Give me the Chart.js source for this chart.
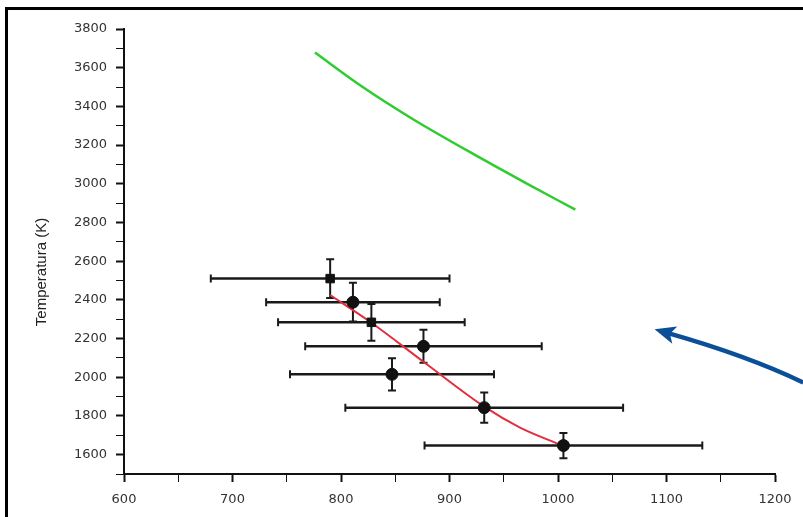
<!DOCTYPE html>
<html>
<head>
<meta charset="utf-8">
<script src="https://cdn.jsdelivr.net/npm/chart.js@4/dist/chart.umd.min.js"></script>
<style>
html, body { margin: 0; padding: 0; background: #fff; overflow: hidden; }
#wrap { position: relative; width: 803px; height: 517px; overflow: hidden; }
#marco { position: absolute; left: 5px; top: 7px; width: 900px; height: 600px; border: 3px solid #000; box-sizing: border-box; }
canvas { position: absolute; left: 0; top: 0; }
</style>
</head>
<body>
<div id="wrap">
  <div id="marco"></div>
  <canvas id="grafico" width="803" height="517"></canvas>
</div>
<script>
// Puntos experimentales con barras de error
const puntosX = [790, 811, 828, 876, 847, 932, 1005];
const puntosY = [2510, 2388, 2284, 2160, 2015, 1843, 1647];
const errorX = [110, 80, 86, 109, 94, 128, 128];
const errorY = [100, 100, 95, 85, 83, 78, 65];
const marcadores = ['rect', 'circle', 'rect', 'circle', 'circle', 'circle', 'circle'];

// Ajuste (linea roja)
const ajusteX = [790, 829, 876, 932, 965, 1005];
const ajusteY = [2425, 2278, 2080, 1848, 1740, 1645];

// Curva verde
const curvaX = [776, 820, 866, 928, 970, 1016];
const curvaY = [3678, 3500, 3335, 3135, 3005, 2866];

// Etiquetas de los ejes
const ticksX = [600, 700, 800, 900, 1000, 1100, 1200];
const ticksY = [1600, 1800, 2000, 2200, 2400, 2600, 2800, 3000, 3200, 3400, 3600, 3800];
const tituloY = 'Temperatura (K)';

// Flecha azul (coordenadas en unidades de los ejes)
const flechaX = [1226, 1175, 1089];
const flechaY = [1973, 2110, 2248];

const pares = (xs, ys) => xs.map((x, i) => ({ x: x, y: ys[i] }));

const barrasError = {
    id: 'barrasError',
    beforeDatasetsDraw(chart) {
        const ctx = chart.ctx;
        const sx = chart.scales.x, sy = chart.scales.y;
        ctx.save();
        ctx.strokeStyle = '#1a1a1a';
        puntosX.forEach((x, i) => {
            const px = sx.getPixelForValue(x), py = sy.getPixelForValue(puntosY[i]);
            const x1 = sx.getPixelForValue(x - errorX[i]), x2 = sx.getPixelForValue(x + errorX[i]);
            const y1 = sy.getPixelForValue(puntosY[i] + errorY[i]), y2 = sy.getPixelForValue(puntosY[i] - errorY[i]);
            // horizontal
            ctx.lineWidth = 2.5;
            ctx.beginPath();
            ctx.moveTo(x1, py); ctx.lineTo(x2, py);
            ctx.stroke();
            ctx.lineWidth = 2;
            ctx.beginPath();
            ctx.moveTo(x1, py - 4); ctx.lineTo(x1, py + 4);
            ctx.moveTo(x2, py - 4); ctx.lineTo(x2, py + 4);
            // vertical
            ctx.moveTo(px, y1); ctx.lineTo(px, y2);
            ctx.moveTo(px - 4, y1); ctx.lineTo(px + 4, y1);
            ctx.moveTo(px - 4, y2); ctx.lineTo(px + 4, y2);
            ctx.stroke();
        });
        ctx.restore();
    },
    afterDraw(chart) {
        const ctx = chart.ctx;
        const sx = chart.scales.x, sy = chart.scales.y;
        // titulo del eje Y
        ctx.save();
        ctx.translate(42, 272);
        ctx.rotate(-Math.PI / 2);
        ctx.fillStyle = '#222';
        ctx.font = '15px "Liberation Sans", Arial, sans-serif';
        ctx.textAlign = 'center';
        ctx.textBaseline = 'middle';
        ctx.fillText(tituloY, 0, 0);
        ctx.restore();

        // flecha azul
        const p = flechaX.map((x, i) => [sx.getPixelForValue(x), sy.getPixelForValue(flechaY[i])]);
        const ang = Math.atan2(p[2][1] - p[1][1], p[2][0] - p[1][0]);
        const largo = 18, ancho = 9;
        const bx = p[2][0] - Math.cos(ang) * largo, by = p[2][1] - Math.sin(ang) * largo;
        ctx.save();
        ctx.strokeStyle = '#0b4f98';
        ctx.fillStyle = '#0b4f98';
        ctx.lineWidth = 4.5;
        ctx.beginPath();
        ctx.moveTo(p[0][0], p[0][1]);
        ctx.quadraticCurveTo(p[1][0], p[1][1], bx + Math.cos(ang) * 3, by + Math.sin(ang) * 3);
        ctx.stroke();
        ctx.beginPath();
        ctx.moveTo(p[2][0], p[2][1]);
        ctx.lineTo(bx - Math.sin(ang) * ancho - Math.cos(ang) * 3, by + Math.cos(ang) * ancho - Math.sin(ang) * 3);
        ctx.lineTo(bx + Math.cos(ang) * 2, by + Math.sin(ang) * 2);
        ctx.lineTo(bx + Math.sin(ang) * ancho - Math.cos(ang) * 3, by - Math.cos(ang) * ancho - Math.sin(ang) * 3);
        ctx.closePath();
        ctx.fill();
        ctx.restore();
    }
};

const fuenteTicks = { family: '"DejaVu Sans", sans-serif', size: 13 };

new Chart(document.getElementById('grafico').getContext('2d'), {
    type: 'scatter',
    data: {
        datasets: [
            {
                label: 'Experimental',
                data: pares(puntosX, puntosY),
                pointStyle: marcadores,
                pointRadius: 6,
                backgroundColor: '#111',
                borderColor: '#111',
                showLine: false
            },
            {
                label: 'Ajuste',
                data: pares(ajusteX, ajusteY),
                showLine: true,
                borderColor: '#e0303f',
                borderWidth: 2,
                pointRadius: 0,
                cubicInterpolationMode: 'monotone'
            },
            {
                label: 'Curva',
                data: pares(curvaX, curvaY),
                showLine: true,
                borderColor: '#2ecc2e',
                borderWidth: 2.5,
                pointRadius: 0,
                cubicInterpolationMode: 'monotone'
            }
        ]
    },
    options: {
        responsive: false,
        animation: false,
        layout: { padding: { top: 29, right: 28, left: 0, bottom: 0 } },
        plugins: {
            legend: { display: false },
            tooltip: { enabled: false }
        },
        scales: {
            x: {
                type: 'linear',
                min: 600,
                max: 1200,
                afterFit: s => { s.height = 43; },
                border: { display: true, color: '#111', width: 2 },
                grid: {
                    drawOnChartArea: false,
                    drawTicks: true,
                    tickLength: 8,
                    tickColor: '#111',
                    tickWidth: c => (c.tick && ticksX.includes(c.tick.value)) ? 2 : 1
                },
                ticks: {
                    stepSize: 50,
                    padding: 10,
                    color: '#333',
                    font: fuenteTicks,
                    maxRotation: 0,
                    autoSkip: false,
                    callback: v => ticksX.includes(v) ? String(v) : ''
                }
            },
            y: {
                type: 'linear',
                min: 1500,
                max: 3800,
                afterFit: s => { s.width = 124; },
                border: { display: true, color: '#111', width: 2 },
                grid: {
                    drawOnChartArea: false,
                    drawTicks: true,
                    tickLength: 8,
                    tickColor: '#111',
                    tickWidth: c => (c.tick && ticksY.includes(c.tick.value)) ? 2 : 1
                },
                ticks: {
                    stepSize: 100,
                    padding: 9,
                    color: '#333',
                    font: fuenteTicks,
                    autoSkip: false,
                    callback: v => ticksY.includes(v) ? String(v) : ''
                }
            }
        }
    },
    plugins: [barrasError]
});
</script>
</body>
</html>
